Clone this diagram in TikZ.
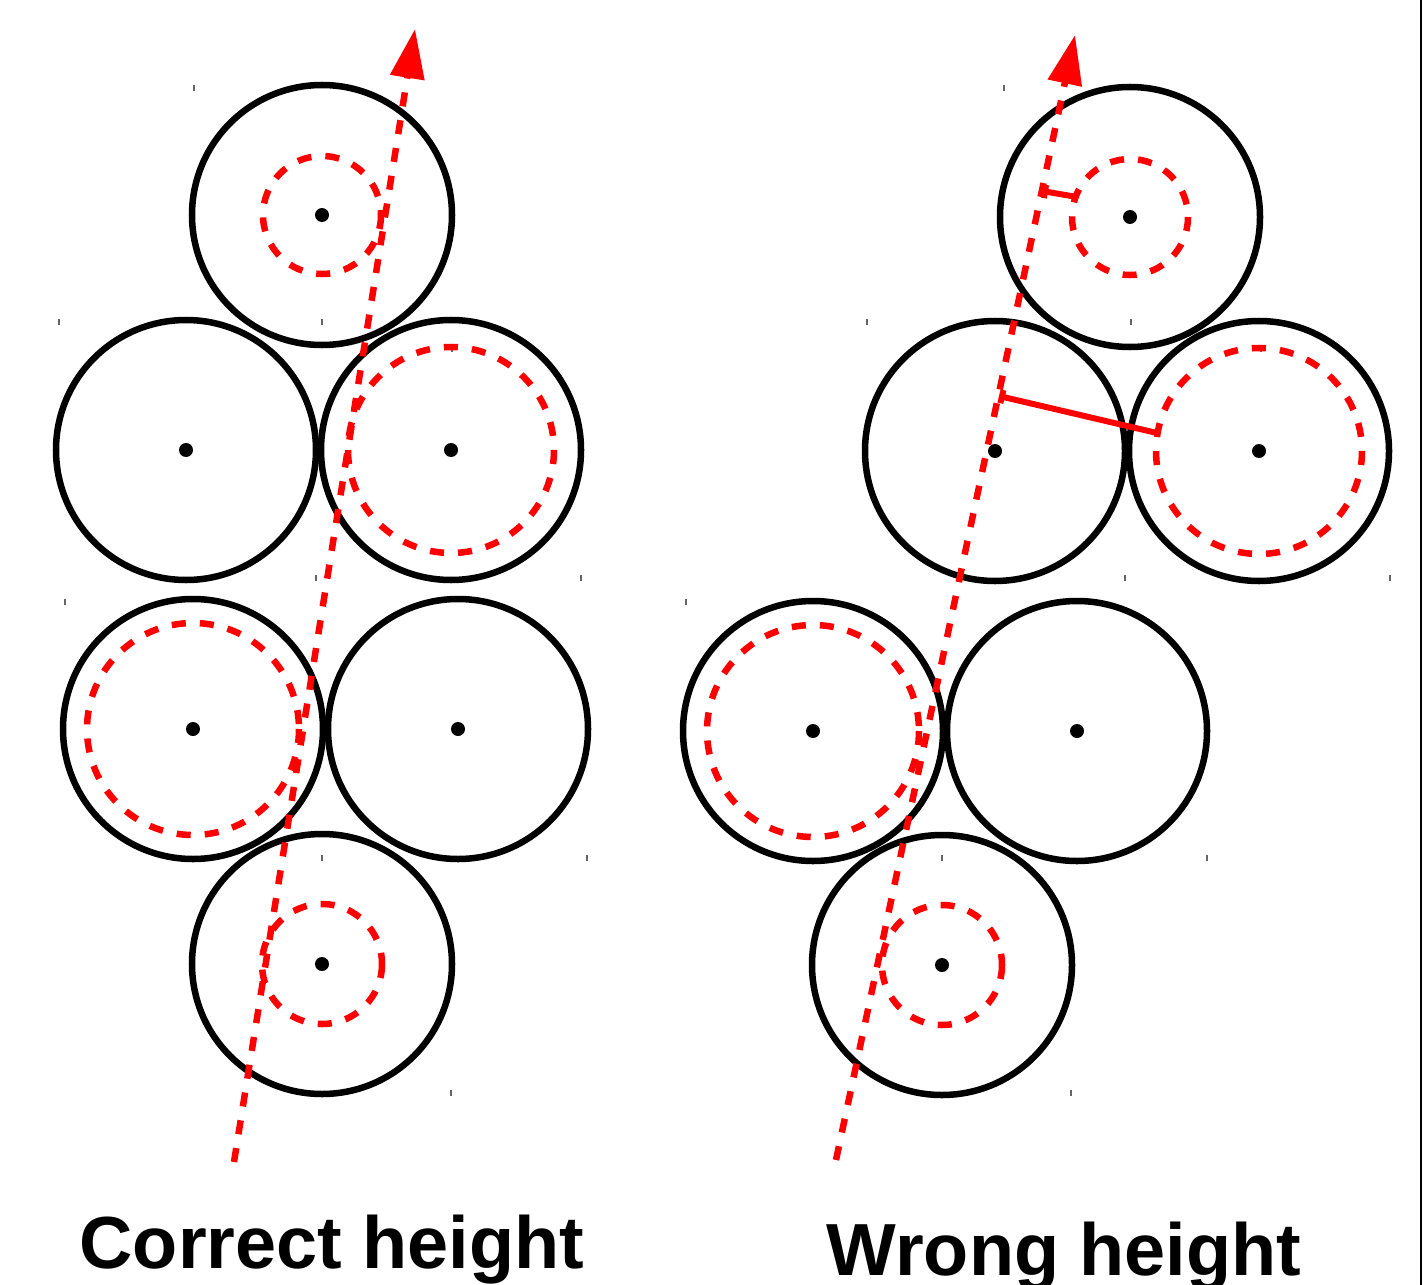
\documentclass[tikz,border=0pt]{standalone}
\usepackage{fontspec}
\setmainfont{Liberation Sans}
\usetikzlibrary{arrows.meta}

\begin{document}
\begin{tikzpicture}[x=0.01cm,y=-0.01cm,
  disc/.style={draw=black,line width=1.85pt},
  ring/.style={draw=red,line width=1.85pt,dash pattern=on 4pt off 4pt},
  path line/.style={draw=red,line width=1.85pt,dash pattern=on 4pt off 4pt,-{Triangle[length=14pt,width=9.5pt]}},
  gap bar/.style={draw=red,line width=1.7pt,{Bar[width=3.8pt]}-},
  crop mark/.style={draw=black!60,line width=0.3pt},
  capt/.style={font=\fontsize{21}{25}\selectfont\bfseries,anchor=base}]
  \useasboundingbox (0,0) rectangle (1424,1285);
  \draw[line width=0.7pt] (1421,0) -- (1421,1285);

  % packed disks
  \foreach \n/\x/\y in {lt/322/215,lml/186/450,lmr/451/450,lll/193/729,llr/458/729,lb/322/964,
                        rt/1130/217,rml/995/451,rmr/1259/451,rll/813/731,rlr/1077/731,rb/942/965}{
    \coordinate (\n) at (\x,\y);
    \draw[disc] (\n) circle[radius=130];
    \fill (\n) circle[radius=7];
  }
  % small corner marks
  \foreach \x/\y in {194/88,59/322,322/322,452/349,316/578,581/578,65/602,322/858,587/858,451/1093,
                     1004/88,867/322,1131/322,1261/349,1125/578,1390/578,686/602,942/858,1207/858,1071/1093}{
    \draw[crop mark] (\x,\y-3) -- (\x,\y+3);
  }

  % touched disks
  \foreach \n/\r in {lt/59,lmr/103,lll/106,lb/60,rt/58,rmr/103,rll/106,rb/60}{
    \draw[ring] (\n) circle[radius=\r];
  }

  % scan lines
  \coordinate (lfoot) at (234,1162);
  \coordinate (lhead) at (415,29);
  \coordinate (rfoot) at (836,1160);
  \coordinate (rhead) at (1075,35);
  \draw[path line] (lfoot) -- (lhead);
  \draw[path line] (rfoot) -- (rhead);

  % gaps
  \coordinate (g1a) at (1042,191);
  \coordinate (g1b) at (1077,197);
  \coordinate (g2a) at (999,396);
  \coordinate (g2b) at (1157,433);
  \draw[gap bar] (g1a) -- (g1b);
  \draw[gap bar] (g2a) -- (g2b);

  \node[capt] (lcap) at (332,1268) {Correct height};
  \node[capt] (rcap) at (1064,1275) {Wrong height};
\end{tikzpicture}
\end{document}
